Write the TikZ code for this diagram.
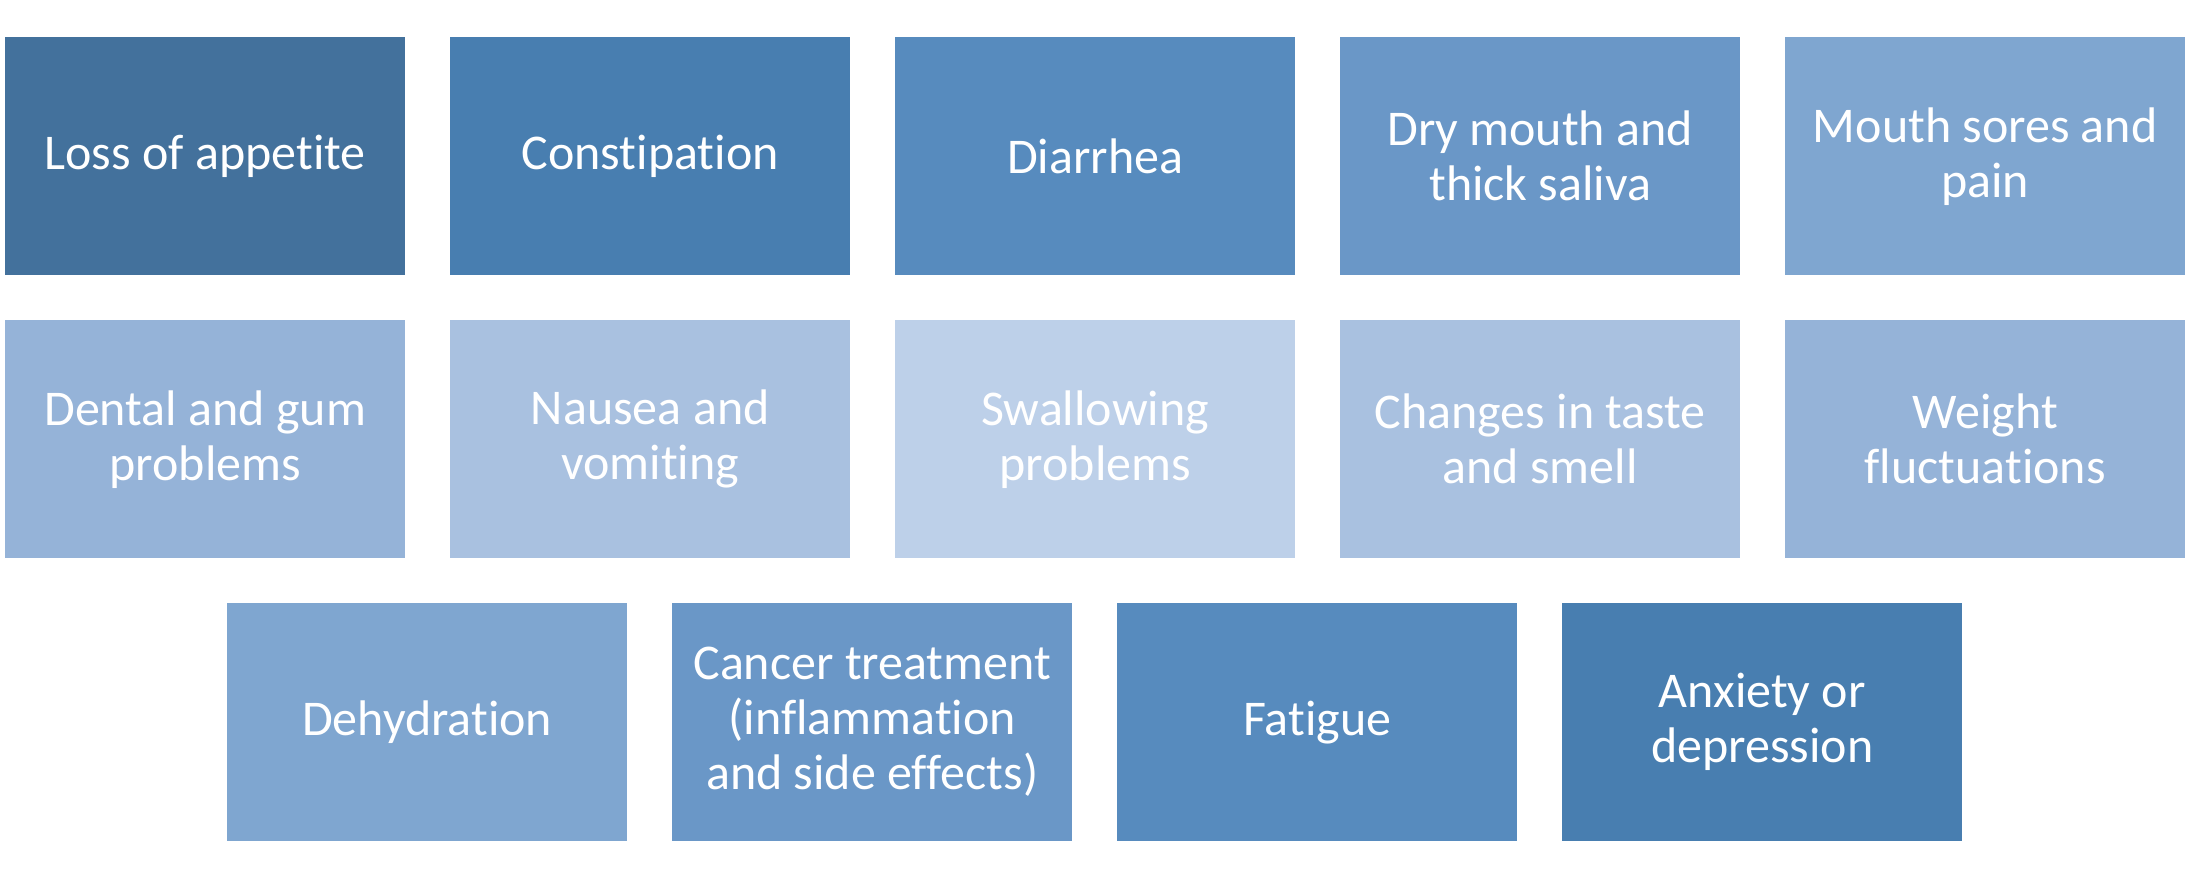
\documentclass[tikz,border=0pt]{standalone}
\usepackage{fontspec}
\setmainfont[Ligatures=CommonOff]{Carlito}
\definecolor{c1}{RGB}{67,113,156}
\definecolor{c2}{RGB}{72,126,176}
\definecolor{c3}{RGB}{87,139,190}
\definecolor{c4}{RGB}{106,151,199}
\definecolor{c5}{RGB}{127,166,208}
\definecolor{c6}{RGB}{149,179,216}
\definecolor{c7}{RGB}{169,193,224}
\definecolor{c8}{RGB}{189,208,233}
\tikzset{
  sbox/.style={rectangle, inner sep=0pt, minimum width=400pt, minimum height=238pt,
    anchor=north west, text=white, align=center,
    font=\fontsize{50}{55}\selectfont}
}
\begin{document}
\begin{tikzpicture}[x=1pt,y=-1pt]
\useasboundingbox (0,0) rectangle (2203,877);
\fill[white] (0,0) rectangle (2203,877);
\node[sbox, fill=c1] (n1) at (5,37) {Loss of appetite};
\node[sbox, fill=c2] (n2) at (450,37) {Constipation};
\node[sbox, fill=c3] (n3) at (895,37) {Diarrhea};
\node[sbox, fill=c4] (n4) at (1340,37) {Dry mouth and\\thick saliva};
\node[sbox, fill=c5] (n5) at (1785,37) {Mouth sores and\\pain};
\node[sbox, fill=c6] (n6) at (5,320) {Dental and gum\\problems};
\node[sbox, fill=c7] (n7) at (450,320) {Nausea and\\vomiting};
\node[sbox, fill=c8] (n8) at (895,320) {Swallowing\\problems};
\node[sbox, fill=c7] (n9) at (1340,320) {Changes in taste\\and smell};
\node[sbox, fill=c6] (n10) at (1785,320) {Weight\\fluctuations};
\node[sbox, fill=c5] (n11) at (227,603) {Dehydration};
\node[sbox, fill=c4] (n12) at (672,603) {Cancer treatment\\(inflammation\\and side effects)};
\node[sbox, fill=c3] (n13) at (1117,603) {Fatigue};
\node[sbox, fill=c2] (n14) at (1562,603) {Anxiety or\\depression};
\end{tikzpicture}
\end{document}
